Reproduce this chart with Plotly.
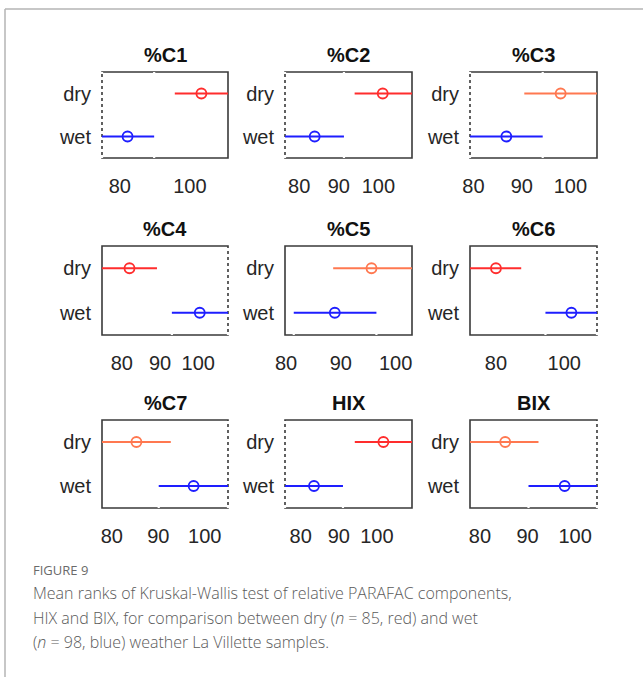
import plotly.graph_objects as go

# ---- data ----
titles = ["%C1", "%C2", "%C3", "%C4", "%C5", "%C6", "%C7", "HIX", "BIX"]
groups = ["dry", "wet"]
dry_mean = [103.3, 101.1, 98.0, 82.0, 95.6, 80.0, 85.3, 101.7, 85.3]
dry_low = [95.7, 94.0, 90.5, 74.8, 88.6, 72.4, 77.9, 94.2, 77.9]
dry_high = [110.9, 108.5, 105.5, 89.2, 103.0, 87.4, 92.7, 109.2, 92.3]
wet_mean = [82.2, 83.9, 86.8, 100.4, 88.9, 102.1, 97.6, 83.5, 97.8]
wet_low = [74.9, 76.4, 79.3, 93.1, 81.4, 94.5, 90.1, 75.9, 90.2]
wet_high = [89.8, 91.3, 94.3, 107.8, 96.5, 109.6, 105.0, 91.1, 104.6]
# dry significantly different from wet (red) or not (orange)
dry_signif = [True, True, False, True, False, True, False, True, False]
x_min = [74.9, 76.4, 79.3, 74.8, 79.8, 72.4, 77.9, 75.9, 77.9]
x_max = [110.9, 108.5, 105.5, 107.8, 103.0, 109.6, 105.0, 109.2, 104.6]
x_ticks = [[80, 100], [80, 90, 100], [80, 90, 100],
           [80, 90, 100], [80, 90, 100], [80, 100],
           [80, 90, 100], [80, 90, 100], [80, 90, 100]]

caption_label = "FIGURE 9"
caption_lines = [
    "Mean ranks of Kruskal-Wallis test of relative PARAFAC components,",
    "HIX and BIX, for comparison between dry (<i>n</i> = 85, red) and wet",
    "(<i>n</i> = 98, blue) weather La Villette samples.",
]

# ---- styling / layout ----
W, H = 643, 677
RED = "rgb(255,45,45)"
ORANGE = "rgb(255,120,80)"
BLUE = "rgb(30,30,255)"
TXT = "#262626"
FONT = "Liberation Sans, Arial, sans-serif"

col_px = [(102, 228), (285, 412), (470, 597)]
row_px = [(72, 158), (246, 335), (420, 508)]

fig = go.Figure()
shapes = []
annotations = []

for i in range(9):
    r, c = divmod(i, 3)
    n = i + 1
    xa = "x" if n == 1 else f"x{n}"
    ya = "y" if n == 1 else f"y{n}"
    xdom = [col_px[c][0] / W, col_px[c][1] / W]
    ydom = [1 - row_px[r][1] / H, 1 - row_px[r][0] / H]

    dcol = RED if dry_signif[i] else ORANGE
    # intervals
    for lo, hi, m, g, col in [
        (dry_low[i], dry_high[i], dry_mean[i], 2, dcol),
        (wet_low[i], wet_high[i], wet_mean[i], 1, BLUE),
    ]:
        fig.add_trace(go.Scatter(
            x=[lo, hi], y=[g, g], mode="lines",
            line=dict(color=col, width=2), xaxis=xa, yaxis=ya,
            showlegend=False, hoverinfo="skip"))
        fig.add_trace(go.Scatter(
            x=[m], y=[g], mode="markers",
            marker=dict(symbol="circle-open", size=10, color=col,
                        line=dict(width=1.8, color=col)),
            xaxis=xa, yaxis=ya, showlegend=False, cliponaxis=False))

    ax_x = dict(domain=xdom, range=[x_min[i], x_max[i]], tickvals=x_ticks[i],
                showgrid=False, zeroline=False, showline=False,
                ticks="outside", ticklen=10, tickcolor="rgba(0,0,0,0)",
                tickfont=dict(family=FONT, size=20, color=TXT),
                anchor=ya, fixedrange=True, automargin=False)
    ax_y = dict(domain=ydom, range=[0.5, 2.5], tickvals=[2, 1],
                ticktext=groups, showgrid=False, zeroline=False,
                showline=False, ticks="outside", ticklen=6,
                tickcolor="rgba(0,0,0,0)",
                tickfont=dict(family=FONT, size=20, color=TXT),
                anchor=xa, fixedrange=True, automargin=False)
    fig.layout[("xaxis" if n == 1 else f"xaxis{n}")] = ax_x
    fig.layout[("yaxis" if n == 1 else f"yaxis{n}")] = ax_y

    # box
    shapes.append(dict(type="rect", xref=f"{xa} domain", yref=f"{ya} domain",
                       x0=0, x1=1, y0=0, y1=1, layer="below",
                       line=dict(color="#3a3a3a", width=1.6)))
    # dashed reference lines at the wet interval endpoints
    span = x_max[i] - x_min[i]
    for v in (wet_low[i], wet_high[i]):
        f = (v - x_min[i]) / span
        shapes.append(dict(type="line", xref=f"{xa} domain", yref=f"{ya} domain",
                           x0=f, x1=f, y0=0, y1=1, layer="below",
                           line=dict(color="white", width=2.2, dash="3px,3px")))
    # title
    annotations.append(dict(text=f"<b>{titles[i]}</b>", xref=f"{xa} domain",
                            yref=f"{ya} domain", x=0.5, y=1, xanchor="center",
                            yanchor="bottom", yshift=4, showarrow=False,
                            font=dict(family=FONT, size=20, color="#111")))

# outer frame of the figure panel
shapes.append(dict(type="line", xref="paper", yref="paper",
                   x0=5 / W, x1=1, y0=1 - 9 / H, y1=1 - 9 / H,
                   line=dict(color="#b5b5b5", width=1.5)))
shapes.append(dict(type="line", xref="paper", yref="paper",
                   x0=5 / W, x1=5 / W, y0=0, y1=1 - 9 / H,
                   line=dict(color="#b5b5b5", width=1.5)))

# caption
annotations.append(dict(text=caption_label, xref="paper", yref="paper",
                        x=31 / W, y=1 - 570 / H, xanchor="left", yanchor="middle",
                        showarrow=False,
                        font=dict(family="Open Sans, sans-serif", size=13, color="#6a6a6a")))
for k, line in enumerate(caption_lines):
    annotations.append(dict(text=line, xref="paper", yref="paper",
                            x=31 / W, y=1 - (593 + 24.5 * k) / H,
                            xanchor="left", yanchor="middle", showarrow=False,
                            font=dict(family="Open Sans, sans-serif", size=16,
                                      color="#5a5a5a", weight=300)))

fig.update_layout(width=W, height=H, margin=dict(l=0, r=0, t=0, b=0, pad=0),
                  paper_bgcolor="white", plot_bgcolor="white",
                  shapes=shapes, annotations=annotations, showlegend=False)

fig.write_html("out.html", config={"displayModeBar": False},
               post_script="document.body.style.margin='0';")
